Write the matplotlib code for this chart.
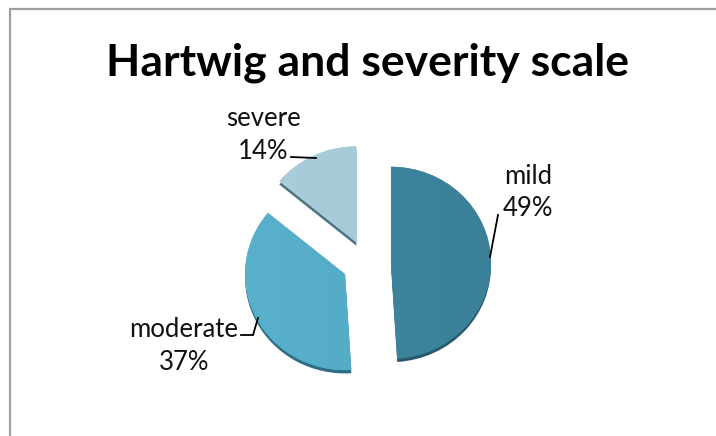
import numpy as np
import matplotlib
matplotlib.use("Agg")
import matplotlib.pyplot as plt
from matplotlib.colors import LinearSegmentedColormap

categories = ["mild", "moderate", "severe"]
percents = [49, 37, 14]
light_colors = ["#428BA5", "#5AB1CB", "#AACEDB"]
dark_colors = ["#3A7F98", "#4EA6C1", "#A2C6D3"]
side_colors = ["#26596C", "#2F6E84", "#4F7482"]
label_pos = [(528, 192.5), (184, 346), (263, 135)]
leaders = [
    [(498, 215), (490, 257)],
    [(241, 335), (253, 335), (258, 318)],
    [(291, 157), (316, 158)],
]

W, H = 716, 436
center_px = (366.7, 263.5)
squash = 0.96  # slices are seen slightly tilted, so they are a bit flatter than wide
radius = 100
explode = [24.3, 24.3, 24.3]

plt.rcParams["font.family"] = ["Lato", "DejaVu Sans"]

fig = plt.figure(figsize=(W / 100, H / 100), dpi=100)

# pie gets its own axes, with y scaled to flatten it
pie_ax = fig.add_axes([0, 0, 1, 1])
cx, cy = center_px[0], 0.0
# dark copy underneath gives the slices their thin 3D edge
pie_ax.pie(percents, explode=explode, colors=side_colors, startangle=90, counterclock=False,
           radius=radius, center=(cx, cy - 3.5), frame=True)
wedges, _ = pie_ax.pie(percents, explode=explode, colors=light_colors, startangle=90, counterclock=False,
                       radius=radius, center=(cx, cy), frame=True)

# soft diagonal shading on each slice
grad = np.linspace(0, 1, 256).reshape(1, -1)
for w, c1, c2 in zip(wedges, light_colors, dark_colors):
    cmap = LinearSegmentedColormap.from_list("shade", [c1, c2])
    im = pie_ax.imshow(grad, cmap=cmap, aspect="auto", zorder=w.get_zorder() + 0.1,
                       extent=[cx - 140, cx + 140, cy - 140, cy + 140])
    im.set_clip_path(w)

pie_ax.set_aspect("auto")
pie_ax.set_xlim(0, W)
pie_ax.set_ylim(-(H - center_px[1]) / squash, center_px[1] / squash)
pie_ax.axis("off")

ax = fig.add_axes([0, 0, 1, 1])
ax.set_xlim(0, W)
ax.set_ylim(0, H)
ax.axis("off")

for cat, pct, (x, y) in zip(categories, percents, label_pos):
    ax.text(x, H - y, f"{cat}\n{pct}%", ha="center", va="center", fontsize=18.5,
            color="#111111", linespacing=1.37, zorder=6)

for pts in leaders:
    xs = [p[0] for p in pts]
    ys = [H - p[1] for p in pts]
    ax.plot(xs, ys, color="black", lw=1.3, zorder=6, solid_joinstyle="miter")

ax.text(368, H - 63, "Hartwig and severity scale", ha="center", va="center",
        fontsize=32, fontweight="bold", color="black")

# chart frame: left and top edges only
ax.plot([9.5, 9.5, W], [0, H - 9.5, H - 9.5], color="#9E9E9E", lw=1.6, zorder=7,
        solid_joinstyle="miter")

fig.savefig("out.png", dpi=100, facecolor="white")
plt.close(fig)
